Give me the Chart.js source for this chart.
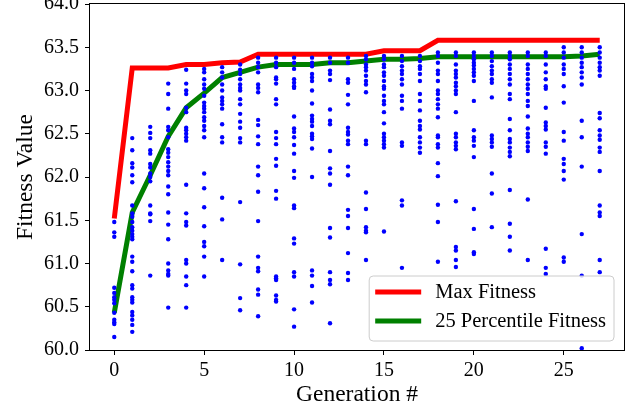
<!DOCTYPE html>
<html>
<head>
<meta charset="utf-8">
<script src="https://cdn.jsdelivr.net/npm/chart.js@4.4.1/dist/chart.umd.min.js"></script>
<style>
  html, body { margin: 0; padding: 0; background: #fff; }
  #wrap { width: 641px; height: 414px; }
</style>
</head>
<body>
<div id="wrap"><canvas id="fitness_chart" width="641" height="414"></canvas></div>
<script>
// Gerações
var generations = [0,1,2,3,4,5,6,7,8,9,10,11,12,13,14,15,16,17,18,19,20,21,22,23,24,25,26,27];

// Melhor fitness por geração
var max_fitness = [61.52,63.26,63.26,63.26,63.30,63.30,63.32,63.33,63.42,63.42,63.42,63.42,63.42,63.42,63.42,
    63.46,63.46,63.46,63.58,63.58,63.58,63.58,63.58,63.58,63.58,63.58,63.58,63.58];

// Percentil 25 por geração
var pct25_fitness = [60.43,61.59,62.02,62.47,62.80,62.97,63.15,63.21,63.27,63.30,63.30,63.30,63.32,63.32,63.34,
    63.36,63.36,63.37,63.39,63.39,63.39,63.39,63.39,63.39,63.39,63.39,63.40,63.42];

// Fitness de cada indivíduo, uma lista por geração
var population_fitness = [
    [61.48,61.36,61.31,60.72,60.66,60.61,60.58,60.54,60.43,60.35,60.32,60.30,60.15],
    [62.45,62.31,62.16,62.11,62.02,61.94,61.67,61.58,61.54,61.48,61.42,61.38,61.34,61.31,61.28,61.08,61.02,60.91,60.75,60.71,60.61,60.58,60.55,60.44,60.40,60.35,60.29,60.21],
    [62.58,62.51,62.45,62.31,62.27,62.15,62.11,62.04,62.00,61.95,61.67,61.58,61.57,61.49,60.86],
    [63.08,62.96,62.79,62.58,62.54,62.46,62.32,62.28,62.23,62.17,62.12,62.07,62.02,61.89,61.80,61.59,61.45,61.28,61.00,60.92,60.88,60.86,60.49],
    [63.24,63.08,63.00,62.96,62.80,62.75,62.57,62.54,62.50,62.46,62.42,61.91,61.58,61.48,61.44,61.04,61.00,60.85,60.75,60.49],
    [63.25,63.21,63.13,63.07,63.02,62.94,62.86,62.82,62.79,62.75,62.69,62.65,62.59,62.54,62.46,62.04,61.87,61.65,61.43,61.25,61.20,61.08,60.85],
    [63.27,63.21,63.15,63.07,63.00,62.92,62.88,62.84,62.79,62.61,62.46,62.40,61.76,61.51,61.04],
    [63.30,63.24,63.19,63.13,63.07,63.03,63.00,62.90,62.84,62.73,62.64,62.57,62.45,62.40,61.71,60.99,60.60,60.46],
    [63.38,63.32,63.27,63.21,63.07,63.03,62.98,62.66,62.60,62.47,62.38,62.12,62.02,61.83,61.49,61.08,60.95,60.91,60.70,60.64,60.39],
    [63.38,63.32,63.27,63.15,63.13,63.08,62.90,62.84,62.52,62.45,62.38,62.21,62.13,61.84,61.75,60.85,60.83,60.81,60.63,60.58,60.56],
    [63.38,63.32,63.25,63.13,63.09,63.05,63.03,62.70,62.56,62.52,62.46,62.37,62.27,62.07,61.99,61.67,61.64,61.29,61.23,60.90,60.85,60.47,60.27],
    [63.38,63.32,63.28,63.19,63.15,63.11,63.00,62.85,62.71,62.67,62.64,62.59,62.50,62.47,62.44,62.33,62.00,60.92,60.86,60.74,60.55],
    [63.38,63.32,63.23,63.19,63.12,62.78,62.65,62.61,62.30,62.10,62.04,61.91,61.41,61.30,60.90,60.81,60.76,60.31],
    [63.38,63.32,63.13,63.09,62.95,62.84,62.57,62.52,62.49,62.42,62.38,62.12,62.02,61.62,61.55,61.41,61.12,60.89,60.81],
    [63.40,63.36,63.30,63.27,63.23,63.17,63.11,63.07,62.98,62.42,62.38,61.82,61.63,61.42,61.38,61.36,61.04],
    [63.40,63.36,63.30,63.27,63.21,63.17,63.11,63.05,63.02,62.94,62.88,62.84,62.75,62.62,62.50,62.46,62.42,62.38,62.34,61.37],
    [63.40,63.34,63.28,63.23,63.19,63.13,63.07,62.94,62.88,62.79,62.40,62.36,61.73,61.67,60.95],
    [63.40,63.34,63.28,63.25,63.19,63.11,62.96,62.88,62.77,62.65,62.59,62.55,62.46,62.40,62.34,62.28],
    [63.44,63.40,63.32,63.23,63.19,63.11,63.00,62.96,62.90,62.84,62.79,62.69,62.48,62.46,62.38,62.34,62.16,62.01,61.68,61.48,61.02],
    [63.44,63.40,63.30,63.23,63.19,63.15,63.09,63.05,63.00,62.96,62.75,62.50,62.46,62.40,62.36,62.32,61.72,61.19,61.15,61.04,60.96],
    [63.44,63.40,63.36,63.32,63.29,63.25,63.21,63.17,63.11,62.88,62.54,62.46,62.42,62.36,62.23,61.63,61.40,61.13,61.11],
    [63.44,63.40,63.34,63.28,63.23,63.19,63.13,63.09,62.92,62.48,62.44,62.40,62.35,62.04,61.81,61.42],
    [63.44,63.40,63.36,63.30,63.25,63.19,63.13,63.07,62.96,62.90,62.67,62.54,62.44,62.40,62.34,62.29,62.24,61.85,61.46,61.31,61.15],
    [63.44,63.40,63.30,63.25,63.19,63.13,63.07,63.02,62.96,62.88,62.82,62.70,62.56,62.50,62.46,62.40,62.35,62.30,61.74,61.04],
    [63.44,63.40,63.30,63.21,63.13,63.05,63.02,62.80,62.63,62.59,62.55,62.40,62.35,62.27,61.17,60.95,60.88],
    [63.50,63.44,63.38,63.30,63.25,63.19,63.05,62.86,62.52,62.42,62.21,62.15,62.07,61.97,61.07,61.02],
    [63.50,63.44,63.38,63.32,63.27,63.21,63.15,63.07,62.65,62.46,62.12,61.34,60.86,60.02],
    [63.50,63.44,63.38,63.32,63.27,63.23,63.17,62.74,62.68,62.54,62.48,62.43,62.34,62.29,62.07,61.67,61.59,61.55,61.04,60.90]
];

// Ticks dos eixos
var x_ticks = [0,5,10,15,20,25];
var y_ticks = [60.0,60.5,61.0,61.5,62.0,62.5,63.0,63.5,64.0];

var serif = "'Liberation Serif', 'Times New Roman', serif";

// Montando os pontos do scatter
var scatter_points = [];
for (var g = 0; g < generations.length; g++) {
    for (var j = 0; j < population_fitness[g].length; j++) {
        scatter_points.push({x: generations[g], y: population_fitness[g][j]});
    }
}

var max_points = generations.map(function(g, i){ return {x: g, y: max_fitness[i]}; });
var pct25_points = generations.map(function(g, i){ return {x: g, y: pct25_fitness[i]}; });

// Moldura em volta da área do gráfico (estilo matplotlib)
var frame_plugin = {
    id: 'frame',
    afterDatasetsDraw: function(chart) {
        var a = chart.chartArea, c = chart.ctx;
        c.save();
        c.strokeStyle = '#000';
        c.lineWidth = 1;
        c.strokeRect(Math.round(a.left) - 0.5, Math.round(a.top) - 0.5,
            Math.round(a.right - a.left) + 1, Math.round(a.bottom - a.top) + 1);
        c.restore();
    }
};

// Legenda dentro do gráfico, canto inferior direito
var legend_plugin = {
    id: 'innerLegend',
    afterDatasetsDraw: function(chart) {
        var a = chart.chartArea, c = chart.ctx;
        var items = chart.data.datasets.filter(function(d){ return d.type === 'line'; });
        c.save();
        c.font = '20.5px ' + serif;
        var text_w = 0;
        items.forEach(function(d){ text_w = Math.max(text_w, c.measureText(d.label).width); });
        var w = 6 + 46 + 14 + text_w + 8;
        var h = 65;
        var right = a.right - 10, bottom = a.bottom - 9;
        var left = right - w, top = bottom - h;
        c.beginPath();
        c.roundRect(left, top, w, h, 4);
        c.fillStyle = 'rgba(255,255,255,0.8)';
        c.fill();
        c.strokeStyle = '#cccccc';
        c.lineWidth = 1;
        c.stroke();
        items.forEach(function(d, i){
            var y = top + 16 + i * 29;
            c.beginPath();
            c.moveTo(left + 6, y);
            c.lineTo(left + 52, y);
            c.strokeStyle = d.borderColor;
            c.lineWidth = 5;
            c.stroke();
            c.fillStyle = '#000';
            c.textBaseline = 'middle';
            c.fillText(d.label, left + 66, y + 1);
        });
        c.restore();
    }
};

var ctx = document.getElementById('fitness_chart');
var fitness_chart = new Chart(ctx, {
    data: {
        datasets: [{
            type: 'scatter',
            label: 'Population',
            data: scatter_points,
            backgroundColor: '#0000ff',
            borderWidth: 0,
            pointRadius: 2.2,
            order: 0
        }, {
            type: 'line',
            label: 'Max Fitness',
            data: max_points,
            borderColor: '#ff0000',
            borderWidth: 5,
            pointRadius: 0,
            tension: 0,
            order: 2
        }, {
            type: 'line',
            label: '25 Percentile Fitness',
            data: pct25_points,
            borderColor: '#008000',
            borderWidth: 5,
            pointRadius: 0,
            tension: 0,
            order: 1
        }]
    },
    options: {
        responsive: false,
        animation: false,
        layout: { padding: { top: 4, right: 17, left: 0, bottom: 0 } },
        plugins: {
            legend: { display: false },
            tooltip: { enabled: false }
        },
        scales: {
            x: {
                type: 'linear',
                min: -1.35,
                max: 28.35,
                afterBuildTicks: function(s){ s.ticks = x_ticks.map(function(v){ return {value: v}; }); },
                afterFit: function(s){ s.height = 64; s.paddingLeft = 0; s.paddingRight = 0; },
                grid: { drawOnChartArea: false, drawTicks: true, tickLength: 5, color: '#000' },
                border: { display: false },
                ticks: { color: '#000', padding: 4, font: { family: serif, size: 20 }, maxRotation: 0 },
                title: { display: true, text: 'Generation #', color: '#000',
                    font: { family: serif, size: 23.5 }, padding: { top: 0, bottom: 5 } }
            },
            y: {
                type: 'linear',
                min: 60,
                max: 64,
                afterBuildTicks: function(s){ s.ticks = y_ticks.map(function(v){ return {value: v}; }); },
                afterFit: function(s){ s.width = 90; s.paddingTop = 0; s.paddingBottom = 0; },
                grid: { drawOnChartArea: false, drawTicks: true, tickLength: 5, color: '#000' },
                border: { display: false },
                ticks: { color: '#000', padding: 6, font: { family: serif, size: 20 },
                    callback: function(v){ return Number(v).toFixed(1); } },
                title: { display: true, text: 'Fitness Value', color: '#000',
                    font: { family: serif, size: 23.5 }, padding: { top: 12, bottom: 0 } }
            }
        }
    },
    plugins: [frame_plugin, legend_plugin]
});
</script>
</body>
</html>
